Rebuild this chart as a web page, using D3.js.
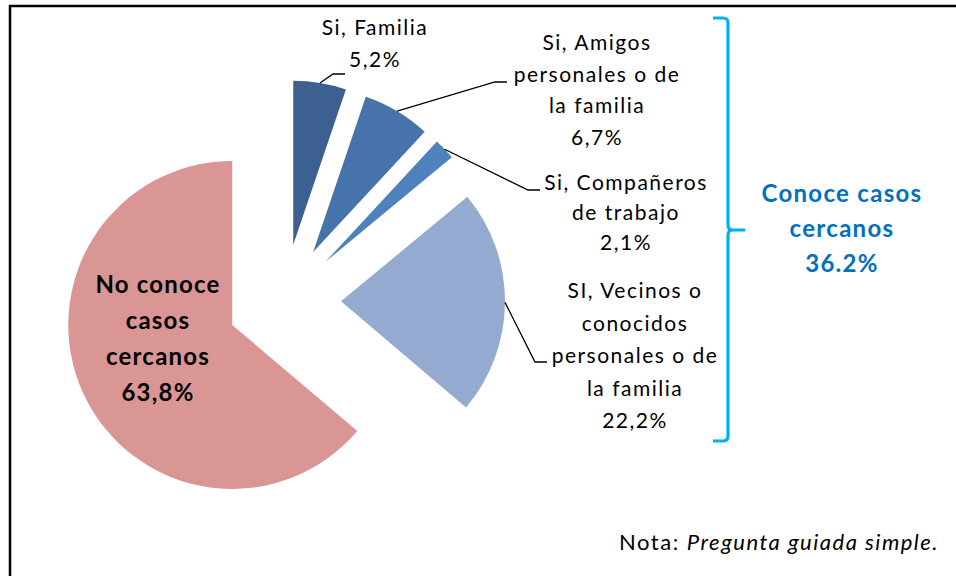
<!DOCTYPE html>
<html>
<head>
<meta charset="utf-8">
<script src="https://cdn.jsdelivr.net/npm/d3@7"></script>
<style>
  body { margin: 0; background: #fff; }
  svg text { font-family: Lato, "Open Sans", sans-serif; }
</style>
</head>
<body>
<div id="chart"></div>
<script>
// data
const categories = ["Si, Familia", "Si, Amigos personales o de la familia", "Si, Compañeros de trabajo",
    "SI, Vecinos o conocidos personales o de la familia", "No conoce casos cercanos"];
const values = [5.2, 6.7, 2.1, 22.2, 63.8];
const labelLines = [
    ["Si, Familia", "5,2%"],
    ["Si, Amigos", "personales o de", "la familia", "6,7%"],
    ["Si, Compañeros", "de trabajo", "2,1%"],
    ["SI, Vecinos o", "conocidos", "personales o de", "la familia", "22,2%"],
    ["No conoce", "casos", "cercanos", "63,8%"]
];
const groupLines = ["Conoce casos", "cercanos", "36.2%"];
const noteLabel = "Nota: ";
const noteText = "Pregunta guiada simple.";

const ChartConfig = {
    width: 956,
    height: 576,
    center: [284, 301],
    radius: 164,
    explode: 57,
    colors: ["#3C6191", "#4674AA", "#4F81BD", "#95AAD1", "#D99694"],
    // label anchor (centre x, first baseline), elbow of the leader line, line height
    labels: [
        {x: 375, y: 35, elbow: [333, 74], end: 345, lh: 32},
        {x: 597, y: 50, elbow: [495, 82], end: 507, lh: 31.5},
        {x: 626, y: 190, elbow: [528, 190], end: 540, lh: 30},
        {x: 635, y: 298, elbow: [535, 362], end: 547, lh: 32.5},
        {x: 158, y: 293, lh: 36, bold: true}
    ]
};

const cfg = ChartConfig;
const svg = d3.select("#chart").append("svg")
    .attr("width", cfg.width)
    .attr("height", cfg.height);

// frame
svg.append("rect")
    .attr("x", 10).attr("y", 6)
    .attr("width", 980).attr("height", 600)
    .attr("fill", "none").attr("stroke", "#000").attr("stroke-width", 2.5);

const pie = d3.pie().sort(null).value(d => d);
const arcs = pie(values);
const arc = d3.arc().innerRadius(0).outerRadius(cfg.radius);

function offsetOf(d) {
    let mid = (d.startAngle + d.endAngle) / 2;
    return [cfg.center[0] + cfg.explode * Math.sin(mid), cfg.center[1] - cfg.explode * Math.cos(mid)];
}

svg.append("g").selectAll("path")
    .data(arcs)
    .enter().append("path")
    .attr("transform", d => `translate(${offsetOf(d)})`)
    .attr("d", arc)
    .attr("fill", (d, i) => cfg.colors[i]);

// leader lines
svg.append("g").selectAll("path")
    .data(arcs.filter((d, i) => cfg.labels[i].elbow))
    .enter().append("path")
    .attr("d", d => {
        let lab = cfg.labels[d.index];
        let o = offsetOf(d);
        let mid = (d.startAngle + d.endAngle) / 2;
        let sx = o[0] + cfg.radius * Math.sin(mid), sy = o[1] - cfg.radius * Math.cos(mid);
        return `M${sx},${sy}L${lab.elbow[0]},${lab.elbow[1]}L${lab.end},${lab.elbow[1]}`;
    })
    .attr("fill", "none").attr("stroke", "#000").attr("stroke-width", 1.3);

// labels
const labelG = svg.append("g");
labelLines.forEach((lines, i) => {
    let lab = cfg.labels[i];
    let t = labelG.append("text")
        .attr("text-anchor", "middle")
        .attr("font-size", lab.bold ? 24 : 21)
        .attr("letter-spacing", lab.bold ? 1.2 : 1.5)
        .attr("font-weight", lab.bold ? "bold" : "normal")
        .attr("fill", "#000");
    lines.forEach((ln, j) => {
        t.append("tspan").attr("x", lab.x).attr("y", lab.y + j * lab.lh).text(ln);
    });
});

// bracket
svg.append("path")
    .attr("d", "M713,18L723,18Q728,18 728,23L728,225Q728,230 733,230L745,230M733,230Q728,230 728,235L728,436Q728,441 723,441L713,441")
    .attr("fill", "none").attr("stroke", "#00B0F0").attr("stroke-width", 3.2);

const groupText = svg.append("text")
    .attr("text-anchor", "middle")
    .attr("font-size", 24)
    .attr("letter-spacing", 1.3)
    .attr("font-weight", "bold")
    .attr("fill", "#0070C0");
groupLines.forEach((ln, j) => {
    groupText.append("tspan").attr("x", 842).attr("y", 202 + j * 35).text(ln);
});

// note
const note = svg.append("text")
    .attr("x", 939).attr("y", 550)
    .attr("text-anchor", "end")
    .attr("font-size", 22)
    .attr("letter-spacing", 1.5)
    .attr("fill", "#000");
note.append("tspan").text(noteLabel);
note.append("tspan").attr("font-style", "italic").text(noteText);
</script>
</body>
</html>
